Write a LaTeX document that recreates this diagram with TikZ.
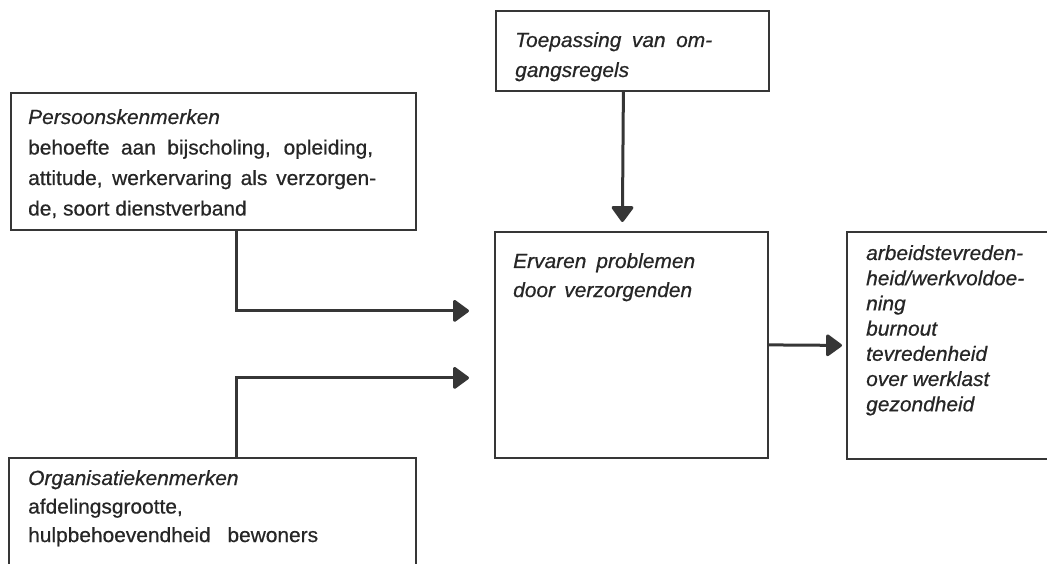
\documentclass[tikz,border=0pt]{standalone}
\usepackage{fontspec}
\setmainfont{Liberation Sans}[FakeStretch=1.02,FakeBold=0.6]
\usetikzlibrary{arrows.meta}
\definecolor{ink}{HTML}{363636}
\definecolor{txtc}{HTML}{262626}
\newcommand\dgfont[1]{\fontsize{20.5}{#1}\selectfont}
\begin{document}
\begin{tikzpicture}[x=1pt,y=-1pt,
  box/.style={draw=ink,line width=1.8pt,anchor=north west,inner sep=0pt},
  txt/.style={anchor=base west,inner sep=0pt,text=txtc},
  arr/.style={draw=ink,line width=3pt,-{Triangle[length=17pt,width=24pt,round]}}]
\useasboundingbox[fill=white] (0,0) rectangle (1047,564);
\clip (0,0) rectangle (1047,564);
% boxes
\node[box,minimum width=273pt,minimum height=80pt] (top) at (495,10) {};
\node[box,minimum width=405pt,minimum height=137pt] (pers) at (10,92) {};
\node[box,minimum width=273pt,minimum height=226pt] (erv) at (494,231) {};
\node[box,minimum width=230pt,minimum height=227pt] (res) at (846,231) {};
\node[box,minimum width=407pt,minimum height=150pt] (org) at (8,457) {};
% texts
\node[txt] (ttop) at (515,47) {\parbox[t]{250pt}{\dgfont{30}\itshape
  \makebox[197pt][s]{Toepassing van om-}\\gangsregels}};
\node[txt] (tpers) at (28,124) {\parbox[t]{390pt}{\dgfont{30.5}%
  {\itshape Persoonskenmerken}\\
  \makebox[345pt][s]{behoefte aan bijscholing, opleiding,}\\
  \makebox[348pt][s]{attitude, werkervaring als verzorgen-}\\
  de, soort dienstverband}};
\node[txt] (terv) at (513,268) {\parbox[t]{250pt}{\dgfont{29}\itshape
  \makebox[182pt][s]{Ervaren problemen}\\
  \makebox[179pt][s]{door verzorgenden}}};
\node[txt] (tres) at (866,260) {\parbox[t]{180pt}{\dgfont{25.2}\itshape
  arbeidstevreden-\\heid/werkvoldoe-\\ning\\burnout\\tevredenheid\\over werklast\\gezondheid}};
\node[txt] (torg) at (28,485) {\parbox[t]{390pt}{\dgfont{28.5}%
  {\itshape Organisatiekenmerken}\\
  afdelingsgrootte,\\
  \makebox[290pt][s]{hulpbehoevendheid bewoners}}};
% connector end points
\coordinate (tipA) at ([xshift=-9pt,yshift=9pt]erv.north);
\coordinate (tipB) at ([xshift=-25pt,yshift=34pt]erv.west);
\coordinate (tipC) at ([xshift=-25pt,yshift=-33pt]erv.west);
% connectors
\draw[arr] ([xshift=-9pt]top.south) -- (tipA);
\draw[arr] ([xshift=23.5pt]pers.south) |- (tipB);
\draw[arr] ([xshift=24.5pt]org.north) |- (tipC);
\draw[arr] (erv.east) -- ([xshift=-4pt]res.west);
\end{tikzpicture}
\end{document}
